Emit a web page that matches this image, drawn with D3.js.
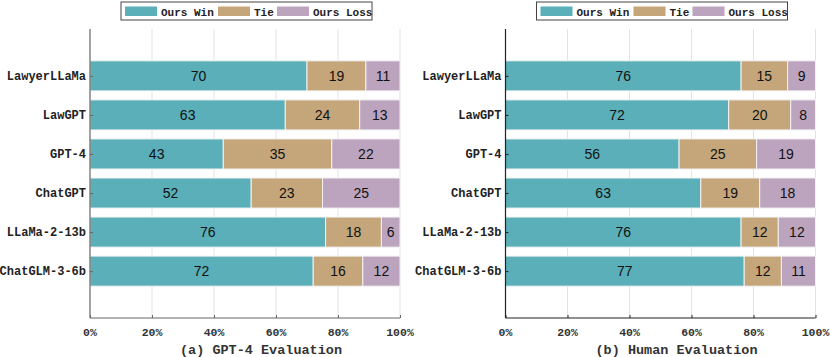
<!DOCTYPE html>
<html>
<head>
<meta charset="utf-8">
<script src="https://cdn.jsdelivr.net/npm/d3@7"></script>
<style>
  body { margin: 0; background: #fff; }
  svg { display: block; }
</style>
</head>
<body>
<svg width="830" height="357"></svg>
<script>
// categories and values
var models = ["LawyerLLaMa", "LawGPT", "GPT-4", "ChatGPT", "LLaMa-2-13b", "ChatGLM-3-6b"];
var seriesNames = ["Ours Win", "Tie", "Ours Loss"];
var gptWin  = [70, 63, 43, 52, 76, 72];
var gptTie  = [19, 24, 35, 23, 18, 16];
var gptLoss = [11, 13, 22, 25, 6, 12];
var humWin  = [76, 72, 56, 63, 76, 77];
var humTie  = [15, 20, 25, 19, 12, 12];
var humLoss = [9, 8, 19, 18, 12, 11];
var xTicks = [0, 20, 40, 60, 80, 100];
var colors = ["#5aafb9", "#c4a67a", "#bca4be"];

var svg = d3.select("svg");
var mono = "'Liberation Mono', 'DejaVu Sans Mono', monospace";

function panel(left, axisColor, win, tie, loss, title) {
    var width = 310, top = 29, bottom = 318;
    var g = svg.append("g").attr("transform", "translate(" + left + ",0)");

    var x = d3.scaleLinear().domain([0, 100]).range([0, width]);
    var y = d3.scaleLinear().domain([-1.2, 6.2]).range([top, bottom]);
    var bh = y(0.77) - y(0);

    // grid
    g.selectAll(".grid").data(xTicks.slice(1)).enter().append("line")
        .attr("x1", d => x(d)).attr("x2", d => x(d))
        .attr("y1", top).attr("y2", bottom)
        .attr("stroke", "#e3e3e3").attr("stroke-width", 1);

    var rows = models.map((m, i) => ({ m: m, i: i, v: [win[i], tie[i], loss[i]] }));
    rows.forEach(function(r) {
        var acc = 0;
        r.v.forEach(function(v, k) {
            g.append("rect")
                .attr("x", x(acc)).attr("width", x(v) - x(0))
                .attr("y", y(r.i) - bh / 2).attr("height", bh)
                .attr("fill", colors[k])
                .attr("stroke", "#f2f2f2").attr("stroke-width", 1);
            g.append("text")
                .attr("x", x(acc + v / 2)).attr("y", y(r.i) + 5)
                .attr("text-anchor", "middle")
                .attr("font-family", "'Liberation Sans', Arial, sans-serif")
                .attr("font-size", 14).attr("fill", "#111")
                .text(v);
            acc += v;
        });
    });

    // y axis
    var yAxis = g.append("g")
        .call(d3.axisRight(y).tickValues(d3.range(models.length))
            .tickSize(3).tickFormat(""));
    yAxis.select(".domain").remove();
    yAxis.selectAll("line").attr("stroke", axisColor);
    g.append("line").attr("x1", 0).attr("x2", 0).attr("y1", top).attr("y2", bottom)
        .attr("stroke", axisColor).attr("stroke-width", 1.2);
    g.selectAll(".ylab").data(models).enter().append("text")
        .attr("x", -4).attr("y", (d, i) => y(i) + 4)
        .attr("text-anchor", "end")
        .attr("font-family", mono).attr("font-weight", "bold")
        .attr("font-size", 12).attr("fill", "#222")
        .text(d => d);

    // x axis
    var xAxis = g.append("g").attr("transform", "translate(0," + bottom + ")")
        .call(d3.axisTop(x).tickValues(xTicks).tickSize(3).tickFormat(""));
    xAxis.select(".domain").remove();
    xAxis.selectAll("line").attr("stroke", axisColor);
    g.append("line").attr("x1", 0).attr("x2", width).attr("y1", bottom).attr("y2", bottom)
        .attr("stroke", axisColor).attr("stroke-width", 1.2);
    g.selectAll(".xlab").data(xTicks).enter().append("text")
        .attr("x", d => x(d)).attr("y", bottom + 18)
        .attr("text-anchor", "middle")
        .attr("font-family", mono).attr("font-weight", "bold")
        .attr("font-size", 11.5).attr("fill", "#333")
        .text(d => d + "%");

    g.append("text")
        .attr("x", x(50) + 16).attr("y", bottom + 36)
        .attr("text-anchor", "middle")
        .attr("font-family", mono).attr("font-weight", "bold")
        .attr("font-size", 13.5).attr("fill", "#333")
        .text(title);

    // legend
    var lg = g.append("g").attr("transform", "translate(" + (x(0) + 31) + ",2)");
    lg.append("rect").attr("x", 0).attr("y", 0).attr("width", 251).attr("height", 18)
        .attr("fill", "#fff").attr("stroke", "#444").attr("stroke-width", 1);
    var offs = [4, 97, 156];
    seriesNames.forEach(function(s, k) {
        lg.append("rect").attr("x", offs[k]).attr("y", 4.5).attr("width", 32).attr("height", 9.5)
            .attr("fill", colors[k]);
        lg.append("text").attr("x", offs[k] + 36).attr("y", 13.5)
            .attr("font-family", mono).attr("font-weight", "bold")
            .attr("font-size", 11).attr("fill", "#222")
            .text(s);
    });
}

panel(90, "#666", gptWin, gptTie, gptLoss, "(a) GPT-4 Evaluation");
panel(505.5, "#222", humWin, humTie, humLoss, "(b) Human Evaluation");
</script>
</body>
</html>
